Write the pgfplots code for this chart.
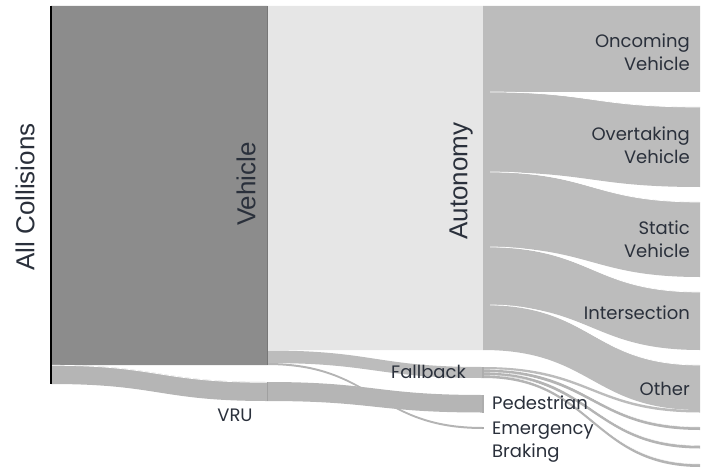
\documentclass[border=0pt]{standalone}
\usepackage{pgfplots}
\pgfplotsset{compat=1.18}
\usepackage{fontspec}
\setmainfont{Poppins}
\newfontfamily\arial{Liberation Sans}

\definecolor{txt}{HTML}{2A303B}
\definecolor{vehdark}{HTML}{8C8C8C}
\definecolor{autolight}{HTML}{E6E6E6}
\definecolor{flowgrey}{HTML}{BCBCBC}
\definecolor{linegrey}{HTML}{B4B4B4}
\definecolor{vrugrey}{HTML}{B5B5B5}
\definecolor{nodeline}{HTML}{777777}

% band between two stacked node positions: x0, top0, bottom0, x1, top1, bottom1, mid x, style
\newcommand{\flow}[8]{%
  \fill[#8] (axis cs:#1,#2) .. controls (axis cs:#7,#2) and (axis cs:#7,#5) .. (axis cs:#4,#5)
    -- (axis cs:#4,#6) .. controls (axis cs:#7,#6) and (axis cs:#7,#3) .. (axis cs:#1,#3) -- cycle;}
% thin white seam along the top edge of a band: x0, y0, x1, y1, mid x
\newcommand{\seam}[6][0.7bp]{%
  \draw[white, line width=#1] (axis cs:#2,#3) .. controls (axis cs:#6,#3) and (axis cs:#6,#5) .. (axis cs:#4,#5);}

\begin{document}
\begin{tikzpicture}
\begin{axis}[
    scale only axis,
    width=707bp, height=468bp,
    xmin=0, xmax=707, ymin=0, ymax=468,
    y dir=reverse,
    hide axis,
    clip=false,
  ]
  % keep the full frame in the bounding box
  \addplot[draw=none] coordinates {(0,0) (707,468)};
  % All Collisions -> Vehicle
  \addplot[draw=none, fill=vehdark] coordinates {(51,6) (267,6) (267,365) (51,365) (51,6)};
  % All Collisions -> VRU
  \flow{51}{365}{384}{267}{382}{401}{159}{vrugrey}
  \seam{51}{365.3}{267}{382.3}{159}
  % Vehicle -> Autonomy
  \addplot[draw=none, fill=autolight] coordinates {(267,6) (483,6) (483,350) (267,350) (267,6)};
  % Vehicle -> Fallback
  \flow{267}{350.5}{363}{483}{367}{378}{375}{flowgrey}
  % Vehicle -> Emergency Braking
  \flow{267}{363}{365}{483}{427}{429}{375}{linegrey}
  % VRU -> Pedestrian
  \flow{267}{382}{401}{483}{395}{412.5}{375}{vrugrey}

  % Autonomy -> outcomes
  \flow{483}{6}{92}{700}{6}{92}{592}{flowgrey}
  \flow{483}{92}{172}{700}{107}{187}{592}{flowgrey}
  \flow{483}{172}{247}{700}{202}{277}{592}{flowgrey}
  \flow{483}{247}{305}{700}{292}{350}{592}{flowgrey}
  \flow{483}{305}{350}{700}{365}{410}{592}{flowgrey}
  \seam{490}{92}{700}{107}{592}
  \seam{490}{172}{700}{202}{592}
  \seam{490}{247}{700}{292}{592}
  \seam{490}{305}{700}{365}{592}
  % Fallback -> outcomes
  \flow{483}{367}{369.5}{700}{410}{412.5}{592}{flowgrey}
  \flow{483}{369.5}{372.5}{700}{427}{430}{592}{linegrey}
  \flow{483}{372.5}{375.5}{700}{445.5}{448.5}{592}{linegrey}
  \flow{483}{375.5}{378}{700}{464}{467}{592}{linegrey}
  \seam[0.35bp]{490}{369.5}{700}{427}{592}
  \seam[0.35bp]{490}{372.5}{700}{445.5}{592}
  \seam[0.35bp]{490}{375.5}{700}{464}{592}

  % node edges
  \addplot[black, line width=2.2bp] coordinates {(51,6) (51,384)};
  \addplot[nodeline, line width=1bp] coordinates {(267,6) (267,365)};
  \addplot[nodeline!70, line width=1bp] coordinates {(267,382) (267,401)};
  \addplot[nodeline!60, line width=1.2bp] coordinates {(483,367) (483,378)};
  \addplot[nodeline!60, line width=1.2bp] coordinates {(483,395) (483,412.5)};
  \addplot[nodeline!60, line width=1.2bp] coordinates {(483,427) (483,429)};

  % labels
  \begin{scope}[every node/.style={text=txt}]
  \node[rotate=90, font=\arial\fontsize{26bp}{30bp}\selectfont] at (axis cs:25,197) {All Collisions};
  \node[rotate=90, font=\arial\fontsize{26bp}{30bp}\selectfont] at (axis cs:246,184) {Vehicle};
  \node[rotate=90, font=\arial\fontsize{26bp}{30bp}\selectfont] at (axis cs:461,181) {Autonomy};
  \begin{scope}[every node/.append style={font=\fontsize{18bp}{23.5bp}\selectfont, inner sep=0pt}]
  \node[anchor=east, align=right] at (axis cs:690,52) {Oncoming\\Vehicle};
  \node[anchor=east, align=right] at (axis cs:690,145) {Overtaking\\Vehicle};
  \node[anchor=east, align=right] at (axis cs:690,239) {Static\\Vehicle};
  \node[anchor=east] at (axis cs:690,313) {Intersection};
  \node[anchor=east] at (axis cs:690,389) {Other};
  \node[anchor=east] at (axis cs:466,372) {Fallback};
  \node[anchor=west] at (axis cs:492,403) {Pedestrian};
  \node[anchor=west, align=left] at (axis cs:492,442) {Emergency\\Braking};
  \node at (axis cs:235,415) {VRU};
  \end{scope}
  \end{scope}
\end{axis}
\end{tikzpicture}
\end{document}
